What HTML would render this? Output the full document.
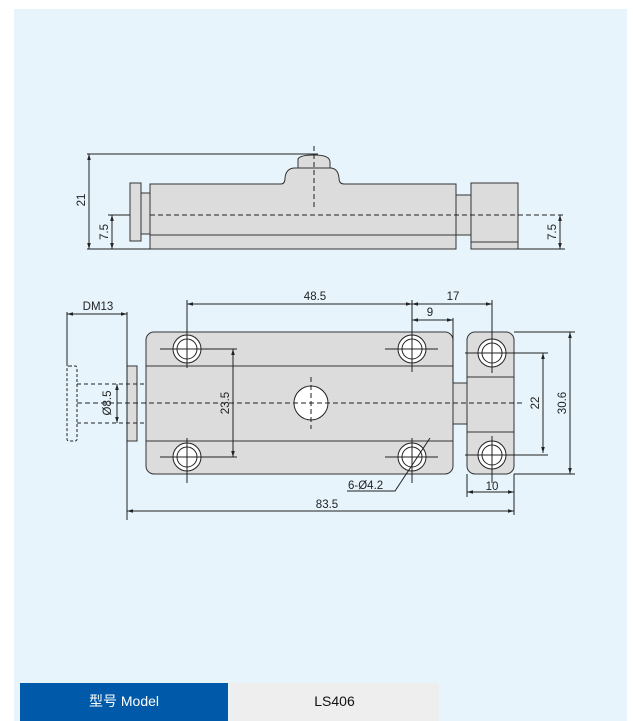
<!DOCTYPE html>
<html><head><meta charset="utf-8"><style>
html,body{margin:0;padding:0;background:#fff;}
body{width:633px;height:721px;position:relative;overflow:hidden;font-family:"Liberation Sans","Noto Sans CJK SC",sans-serif;}
.panel{position:absolute;left:14px;top:9px;width:613px;height:712px;background:#e7f4fc;}
svg{position:absolute;left:0;top:0;}
.c1{position:absolute;left:20px;top:683px;width:208px;height:38px;background:#0059a9;color:#fff;font-size:14px;text-align:center;line-height:36px;}
.c2{position:absolute;left:230px;top:683px;width:209px;height:38px;background:#eeeeee;color:#111;font-size:14px;text-align:center;line-height:36px;}
</style></head><body>
<div class="panel"></div>
<svg width="633" height="721" viewBox="0 0 633 721" font-family="Liberation Sans, sans-serif" font-size="11.5" fill="none" stroke="#222" stroke-width="1">
<defs>
<marker id="a" viewBox="0 0 10 10" refX="10" refY="5" markerWidth="6" markerHeight="6" orient="auto-start-reverse" markerUnits="userSpaceOnUse"><path d="M0,2 L10,5 L0,8 Z" fill="#222" stroke="none"/></marker>
</defs>
<!-- TOP VIEW -->
<g fill="#dcdcdc" stroke="#333">
<rect x="130" y="183" width="11" height="58"/>
<rect x="141" y="193" width="9" height="41"/>
<path d="M150,249 V184 H281 Q285,184 285,178 Q286,168 295,168 H330 Q338,168 339,178 Q339,184 344,184 H456 V249 Z"/>
<path d="M298,168 V159 Q300,155 314,155 Q330,155 330,162 V168 Z"/>
<rect x="456" y="195" width="15" height="40"/>
<rect x="471" y="183" width="47" height="66"/>
</g>
<line x1="150" y1="235" x2="456" y2="235" stroke="#333"/>
<line x1="471" y1="242" x2="518" y2="242" stroke="#333"/>
<line x1="150" y1="215" x2="565" y2="215" stroke-dasharray="5,3"/>
<line x1="314" y1="146" x2="314" y2="207" stroke-dasharray="5,3"/>
<line x1="108" y1="215" x2="130" y2="215"/>
<line x1="87" y1="154" x2="318" y2="154"/>
<line x1="87" y1="249" x2="150" y2="249"/>
<line x1="518" y1="249" x2="565" y2="249"/>
<g marker-start="url(#a)" marker-end="url(#a)">
<line x1="89" y1="154" x2="89" y2="249"/>
<line x1="112" y1="215" x2="112" y2="249"/>
<line x1="560" y1="215" x2="560" y2="249"/>
</g>
<g fill="#222" stroke="none">
<text transform="translate(85,200) rotate(-90)" text-anchor="middle">21</text>
<text transform="translate(108,232) rotate(-90)" text-anchor="middle">7.5</text>
<text transform="translate(556,232) rotate(-90)" text-anchor="middle">7.5</text>
</g>
<!-- BOTTOM VIEW -->
<g fill="#dcdcdc" stroke="#333">
<path d="M453,383 H467 V424 H453 Z"/>
<rect x="146" y="332" width="307" height="142" rx="8"/>
<rect x="467" y="332" width="47" height="142" rx="8"/>
<rect x="127" y="366" width="10" height="75"/>
</g>
<line x1="146" y1="366" x2="453" y2="366" stroke="#333"/>
<line x1="146" y1="441" x2="453" y2="441" stroke="#333"/>
<line x1="467" y1="377" x2="514" y2="377" stroke="#333"/>
<line x1="467" y1="432" x2="514" y2="432" stroke="#333"/>
<rect x="67" y="366" width="10" height="75" rx="2" stroke-dasharray="3,2"/>
<line x1="77" y1="384" x2="146" y2="384" stroke-dasharray="4,3"/>
<line x1="77" y1="423" x2="146" y2="423" stroke-dasharray="4,3"/>
<circle cx="311" cy="403" r="17" fill="#fff"/>
<line x1="77" y1="403" x2="522" y2="403" stroke-dasharray="5,3"/>
<line x1="311" y1="377" x2="311" y2="429" stroke-dasharray="5,3"/>
<g fill="#fff">
<circle cx="187" cy="349" r="14"/><circle cx="187" cy="349" r="10"/>
<circle cx="412" cy="349" r="14"/><circle cx="412" cy="349" r="10"/>
<circle cx="187" cy="457" r="14"/><circle cx="187" cy="457" r="10"/>
<circle cx="412" cy="457" r="14"/><circle cx="412" cy="457" r="10"/>
<circle cx="492" cy="353" r="14"/><circle cx="492" cy="353" r="10"/>
<circle cx="492" cy="455" r="14"/><circle cx="492" cy="455" r="10"/>
</g>
<path d="M187,300 V368 M160,349 H237 M160,457 H237 M187,438 V483 M412,300 V372 M385,349 H438 M385,457 H438 M412,438 V483 M492,300 V373 M465,353 H548 M465,455 H548 M492,436 V483 M453,318 V383 M514,332 H575 M514,474 H575 M67,312 V366 M127,312 V520 M467,474 V497 M514,474 V515"/>
<g marker-start="url(#a)" marker-end="url(#a)">
<line x1="187" y1="304" x2="412" y2="304"/>
<line x1="412" y1="304" x2="492" y2="304"/>
<line x1="412" y1="320" x2="453" y2="320"/>
<line x1="67" y1="314" x2="127" y2="314"/>
<line x1="233" y1="349" x2="233" y2="457"/>
<line x1="543" y1="353" x2="543" y2="453"/>
<line x1="570" y1="332" x2="570" y2="474"/>
<line x1="117" y1="384" x2="117" y2="423"/>
<line x1="467" y1="492" x2="514" y2="492"/>
<line x1="127" y1="511" x2="514" y2="511"/>
</g>
<path d="M430,438 L395,491 H347"/>
<g fill="#222" stroke="none">
<text x="315" y="300" text-anchor="middle">48.5</text>
<text x="453" y="300" text-anchor="middle">17</text>
<text x="430" y="316" text-anchor="middle">9</text>
<text x="98" y="310" text-anchor="middle">DM13</text>
<text x="492" y="490" text-anchor="middle">10</text>
<text x="327" y="508" text-anchor="middle">83.5</text>
<text x="348" y="489">6-Ø4.2</text>
<text transform="translate(229,403) rotate(-90)" text-anchor="middle">23.5</text>
<text transform="translate(539,403) rotate(-90)" text-anchor="middle">22</text>
<text transform="translate(566,403) rotate(-90)" text-anchor="middle">30.6</text>
<text transform="translate(111,403) rotate(-90)" text-anchor="middle">Ø8.5</text>
</g>
</svg>
<div class="c1">型号 Model</div>
<div class="c2">LS406</div>
</body></html>
